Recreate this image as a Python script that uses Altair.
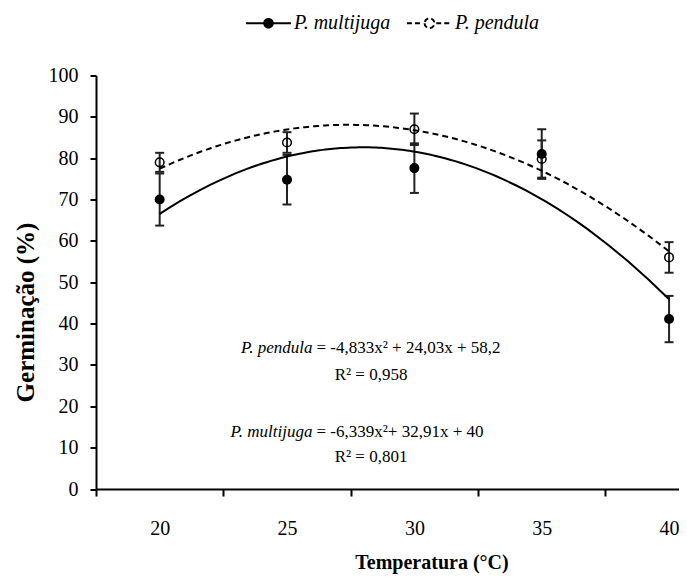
import altair as alt
import pandas as pd

# ---- data ----
temperatures = [20, 25, 30, 35, 40]
species_names = ["P. multijuga", "P. pendula"]
multijuga_mean = [70.0, 74.8, 77.6, 81.0, 41.1]
multijuga_err = [6.3, 6.0, 6.0, 6.0, 5.6]
pendula_mean = [79.0, 83.8, 87.0, 79.8, 56.0]
pendula_err = [2.3, 2.5, 3.8, 4.5, 3.7]

y_ticks = [0, 10, 20, 30, 40, 50, 60, 70, 80, 90, 100]

eq_names = ["P. pendula", "P. multijuga"]
eq_rest = ["= -4,833x\u00b2 + 24,03x + 58,2", "= -6,339x\u00b2+ 32,91x + 40"]
eq_split_x = [26.0, 26.0]
eq_y = [34.0, 13.9]
r2_labels = ["R\u00b2 = 0,958", "R\u00b2 = 0,801"]
r2_x = [28.3, 28.3]
r2_y = [27.6, 7.8]

FONT = "Liberation Serif"

rows = []
for t, m, e in zip(temperatures, multijuga_mean, multijuga_err):
    rows.append({"temp": t, "value": m, "err": e, "species": species_names[0]})
for t, m, e in zip(temperatures, pendula_mean, pendula_err):
    rows.append({"temp": t, "value": m, "err": e, "species": species_names[1]})
df = pd.DataFrame(rows)

eq_df = pd.DataFrame({"temp": eq_split_x, "value": eq_y, "name": eq_names, "rest": eq_rest})
r2_df = pd.DataFrame({"temp": r2_x, "value": r2_y, "label": r2_labels})

PX_PER_UNIT = 25.47
PLOT_W = 583
HALF_CAT = 2.5 * PX_PER_UNIT

x_scale = alt.Scale(domain=[17.5, 17.5 + PLOT_W / PX_PER_UNIT], nice=False, zero=False)
y_scale = alt.Scale(domain=[0, 100], nice=False)

x_axis = alt.Axis(
    values=temperatures, format="d", tickOffset=-HALF_CAT, labelOffset=HALF_CAT,
    tickSize=7, tickWidth=2, tickColor="black", domainColor="black", domainWidth=2,
    grid=False, labelFont=FONT, labelFontSize=20, labelColor="black", labelPadding=22,
    labelFlush=False, labelOverlap=False,
    title="Temperatura (\u00b0C)", titleFont=FONT, titleFontSize=20, titleFontWeight="bold",
    titleColor="black", titleX=335.5, titleY=73, titleAlign="center", titleBaseline="middle",
)
y_axis = alt.Axis(
    values=y_ticks, tickSize=6, tickWidth=2, tickColor="black", domainColor="black",
    domainWidth=2, grid=False, labelFont=FONT, labelFontSize=20, labelColor="black",
    labelPadding=12,
    title="Germina\u00e7\u00e3o (%)", titleFont=FONT, titleFontSize=25, titleFontWeight="bold",
    titleColor="black", titleX=-71, titleY=236.5, titleAngle=270, titleAlign="center",
    titleBaseline="middle",
)

X = alt.X("temp:Q", scale=x_scale, axis=x_axis)
Y = alt.Y("value:Q", scale=y_scale, axis=y_axis)

base = alt.Chart(df)

err_rules = base.transform_calculate(
    lo="datum.value - datum.err", hi="datum.value + datum.err"
).mark_rule(color="#222222", strokeWidth=2).encode(
    x=X, y=alt.Y("lo:Q", scale=y_scale, axis=y_axis), y2="hi:Q"
)
err_caps = base.transform_calculate(
    lo="datum.value - datum.err", hi="datum.value + datum.err"
).transform_fold(["lo", "hi"], as_=["end", "endval"]).mark_tick(
    orient="horizontal", size=9, thickness=2, color="#222222", opacity=1
).encode(x=X, y=alt.Y("endval:Q", scale=y_scale, axis=y_axis))

line_mj = base.transform_filter(alt.datum.species == species_names[0]).transform_regression(
    "temp", "value", method="poly", order=2
).mark_line(color="black", strokeWidth=2).encode(x=X, y=Y)
line_pd = base.transform_filter(alt.datum.species == species_names[1]).transform_regression(
    "temp", "value", method="poly", order=2
).mark_line(color="black", strokeWidth=2, strokeDash=[6, 4]).encode(x=X, y=Y)

pts_mj = base.transform_filter(alt.datum.species == species_names[0]).mark_point(
    shape="circle", filled=True, color="black", size=100, opacity=1
).encode(x=X, y=Y)
pts_pd = base.transform_filter(alt.datum.species == species_names[1]).mark_point(
    shape="circle", filled=False, stroke="black", strokeWidth=1.5, size=75, opacity=1
).encode(x=X, y=Y)

path_mj = "M-1,0L1,0M-0.19,0A0.19,0.19,0,1,0,0.19,0A0.19,0.19,0,1,0,-0.19,0Z"
path_pd = "M-1,0L-0.3,0M0.3,0L1,0M-0.22,0A0.22,0.22,0,1,0,0.22,0A0.22,0.22,0,1,0,-0.22,0Z"

leg = alt.Legend(
    title=None, orient="none", legendX=149, legendY=-76, direction="horizontal",
    symbolSize=2025, symbolStrokeWidth=2, symbolStrokeColor="black", symbolOpacity=1,
    labelFont=FONT, labelFontSize=20, labelFontStyle="italic", labelColor="black",
    labelOffset=2, columnPadding=12, padding=0,
)
legend_layer = base.transform_filter("false").mark_point(
    opacity=1, strokeWidth=2, filled=False
).encode(
    x=X, y=Y,
    shape=alt.Shape("species:N", scale=alt.Scale(domain=species_names, range=[path_mj, path_pd]), legend=leg),
    fill=alt.Fill("species:N", scale=alt.Scale(domain=species_names, range=["black", "transparent"]), legend=leg),
    stroke=alt.Stroke("species:N", scale=alt.Scale(domain=species_names, range=["black", "#000001"]), legend=leg),
    strokeDash=alt.StrokeDash("species:N", scale=alt.Scale(domain=species_names, range=[[1, 0], [5, 3]]), legend=leg),
)

eq_names_layer = alt.Chart(eq_df).mark_text(
    font=FONT, fontSize=17, fontStyle="italic", align="right", baseline="middle", color="black"
).encode(x=X, y=Y, text="name:N")
eq_rest_layer = alt.Chart(eq_df).mark_text(
    font=FONT, fontSize=17, align="left", baseline="middle", dx=4, color="black"
).encode(x=X, y=Y, text="rest:N")
r2_layer = alt.Chart(r2_df).mark_text(
    font=FONT, fontSize=17, align="center", baseline="middle", color="black"
).encode(x=X, y=Y, text="label:N")

chart = alt.layer(
    err_rules, err_caps, line_mj, line_pd, pts_mj, pts_pd, legend_layer,
    eq_names_layer, eq_rest_layer, r2_layer
).properties(
    width=PLOT_W, height=413.5,
    padding={"left": 88, "top": 67.5, "right": 0, "bottom": 88},
    autosize=alt.AutoSizeParams(type="none"),
    background="white",
).configure_view(stroke=None)

chart.save("out.html", embed_options={"renderer": "svg", "actions": False})
